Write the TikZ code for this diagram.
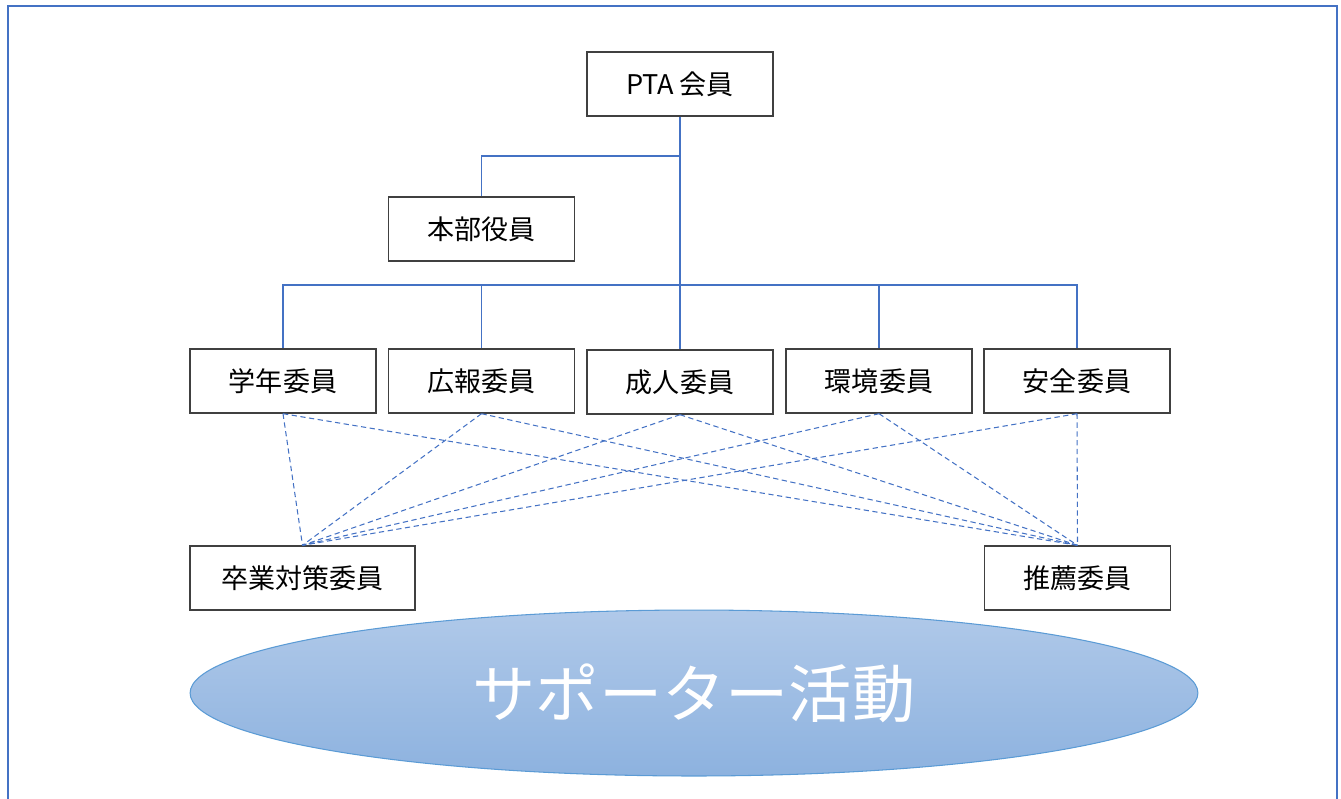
\documentclass[tikz,border=0pt]{standalone}
\usepackage{fontspec}
\setmainfont{Noto Sans CJK JP}
\usetikzlibrary{%
  arrows,
  shapes.geometric
}
\definecolor{linkblue}{RGB}{68,114,196}
\definecolor{rimblue}{RGB}{91,155,213}
\definecolor{boxgray}{RGB}{64,64,64}
\tikzset{>=latex}
\tikzset{
  member/.style={draw=boxgray, line width=0.8pt, minimum width=3.72cm,
    minimum height=1.28cm, inner sep=0pt, font=\fontsize{15.4}{18}\selectfont},
  link/.style={draw=linkblue, line width=0.8pt},
  helper/.style={draw=linkblue, line width=0.6pt, dash pattern=on 3pt off 2pt}
}

\begin{document}
\begin{tikzpicture}[x=0.02cm, y=-0.02cm]

  \useasboundingbox (0,0) rectangle (1341,798);
  \draw[linkblue, line width=1.2pt] (8,6) rectangle (1337,830);

  \node[member] (pta) at (680,84) {PTA 会員};
  \node[member] (honbu) at (481.5,229) {本部役員};

  \node[member] (gakunen) at (283,381) {学年委員};
  \node[member] (kouhou) at (481.5,381) {広報委員};
  \node[member] (seijin) at (680,382) {成人委員};
  \node[member] (kankyou) at (879,381) {環境委員};
  \node[member] (anzen) at (1077,381) {安全委員};

  \node[member, minimum width=4.5cm] (sotsugyo) at (302.5,578) {卒業対策委員};
  \node[member] (suisen) at (1077.5,578) {推薦委員};

  \coordinate (fork) at (680,156);
  \coordinate (bus) at (680,285);

  \draw[link] (pta.south) -- (bus);
  \draw[link] (fork) -| (honbu.north);
  \foreach \c in {gakunen,kouhou,seijin,kankyou,anzen}
    \draw[link] (bus) -| (\c.north);

  \foreach \c in {gakunen,kouhou,seijin,kankyou,anzen} {
    \draw[helper] (\c.south) -- (sotsugyo.north);
    \draw[helper] (\c.south) -- (suisen.north);
  }

  \node[ellipse, draw=rimblue, line width=0.6pt,
    top color={rgb,255:red,176;green,201;blue,233},
    bottom color={rgb,255:red,141;green,178;blue,223},
    minimum width=20.16cm, minimum height=3.32cm, inner sep=0pt,
    text=white, font=\fontsize{36}{40}\selectfont] (support) at (694,693) {サポーター活動};

\end{tikzpicture}
\end{document}
